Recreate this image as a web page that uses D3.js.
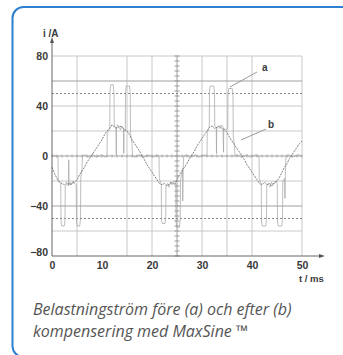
<!DOCTYPE html>
<html>
<head>
<meta charset="utf-8">
<script src="https://cdn.jsdelivr.net/npm/d3@7"></script>
<style>
  body { margin: 0; background: #fff; }
  svg { display: block; }
</style>
</head>
<body>
<div id="chart"></div>
<script>
// curve b (after compensation), one reading every 0.5 ms
const bTime = d3.range(0, 50.01, 0.5)
const bCurrent = [
  -9, -14, -18, -21, -22, -23, -21, -23, -22, -21, -19, -15, -12, -9, -5, -2, 1, 4, 7, 10,
  13, 17, 20, 22, 25, 23, 22, 24, 23, 21, 20, 17, 13, 10, 7, 4, 0, -3, -7, -10,
  -13, -16, -19, -22, -23, -22, -24, -22, -21, -23, -19, -15, -12, -9, -6, -2, 1, 4, 8, 11,
  14, 17, 20, 23, 24, 22, 23, 24, 22, 21, 19, 15, 12, 9, 6, 3, 0, -3, -7, -10,
  -13, -16, -19, -22, -23, -21, -23, -22, -24, -21, -20, -17, -13, -9, -6, -2, 1, 4, 7, 10,
  12
]

// curve a (before compensation)
const aTime = [
  0, 0.5, 0.9, 1.2, 1.25, 1.5, 1.75, 1.8, 1.95, 2.45, 2.6, 2.65, 3.0, 3.3, 3.35, 3.4, 3.6, 3.9, 4.2, 4.5, 4.85,
  4.9, 5.05, 5.55, 5.7, 5.75, 6.0, 6.1, 6.6, 7.1, 7.6, 8.2, 8.8, 9.4, 10.0, 10.6,
  11.0, 11.05, 11.3, 11.55, 11.6, 11.75, 12.25, 12.4, 12.45, 12.8, 12.85, 12.9, 13.1, 13.4, 13.7, 14.0, 14.3,
  14.35, 14.4, 14.65, 14.7, 14.85, 15.5, 15.65, 15.7, 16.0, 16.1, 16.7, 17.3, 17.9, 18.5, 19.1, 19.7, 20.3, 20.9,
  21.4, 21.45, 21.7, 21.85, 21.9, 22.05, 22.6, 22.75, 22.8, 23.1, 23.4, 23.7, 24.0, 24.3, 24.75,
  24.8, 24.95, 25.5, 25.65, 25.7, 26.0, 26.1, 26.15, 26.25, 26.35, 26.9, 27.5, 28.1, 28.7, 29.3, 29.9, 30.5,
  31.0, 31.05, 31.3, 31.45, 31.5, 31.65, 32.35, 32.5, 32.55, 32.85, 32.9, 32.95, 33.3, 33.6, 33.9, 34.2,
  34.3, 34.35, 34.7, 35.15, 35.2, 35.35, 36.05, 36.2, 36.25, 36.5, 36.6, 37.2, 37.8, 38.4, 39.0, 39.6, 40.2, 40.8,
  41.4, 41.45, 41.7, 41.85, 41.9, 42.05, 42.75, 42.9, 42.95, 43.3, 43.6, 43.9, 44.2, 44.5, 44.8, 45.05,
  45.1, 45.25, 45.95, 46.1, 46.15, 46.5, 46.6, 46.7, 46.8, 47.4, 48.0, 48.6, 49.2, 50
]
const aCurrent = [
  -1, 1, -1, 0, -20, -21, -22, -52, -56, -56, -51, -24, -22, -24, -3, -23, -21, -23, -20, -22, -23,
  -52, -56, -56, -50, -18, -10, 0, 1, -1, 0, 1, -1, 0, 1, -1,
  0, 18, 20, 22, 52, 57, 57, 50, 24, 22, 1, 23, 25, 23, 21, 24, 22,
  2, 21, 20, 50, 56, 56, 50, 18, 10, 0, -1, 1, 0, -1, 1, 0, -1, 1,
  0, -18, -21, -22, -50, -54, -54, -49, -24, -22, -25, -21, -23, -20, -22,
  -53, -57, -57, -50, -20, -12, -10, -36, -8, 0, 1, -1, 0, 1, -1, 0, 1,
  0, 19, 21, 23, 52, 56, 56, 50, 24, 22, 2, 23, 24, 22, 25, 23,
  3, 22, 21, 22, 50, 54, 54, 48, 16, 8, 0, 1, -1, 0, 1, -1, 0, 1,
  0, -18, -21, -22, -52, -56, -56, -50, -23, -22, -25, -21, -23, -22, -20, -22,
  -52, -56, -56, -50, -20, -18, -34, -10, 0, 1, -1, 0, 1, 0
]

const yLabels = [80, 40, 0, -40, -80]
const xLabels = [0, 10, 20, 30, 40, 50]
const gridTimes = [5, 15, 20, 25, 30, 35, 40, 50]
const gridCurrents = [80, 60, 40, 20, 0, -20, -40, -60]
const dashedCurrents = [50, -50]

const width = 343
const height = 355

const svg = d3
  .select('#chart')
  .append('svg')
  .attr('width', width)
  .attr('height', height)

// card
svg
  .append('rect')
  .attr('x', 12.5)
  .attr('y', 7)
  .attr('width', 345)
  .attr('height', 350)
  .attr('rx', 11)
  .attr('fill', '#fff')
  .attr('stroke', '#2d7fd3')
  .attr('stroke-width', 2)

const xScale = d3.scaleLinear().domain([0, 50]).range([52, 302])
const yScale = d3.scaleLinear().domain([-80, 80]).range([256, 56])

const grid = svg.append('g')

grid
  .selectAll('.vgrid')
  .data(gridTimes)
  .enter()
  .append('line')
  .attr('x1', d => xScale(d))
  .attr('x2', d => xScale(d))
  .attr('y1', yScale(80))
  .attr('y2', yScale(-80))
  .attr('stroke', d => (d === 25 ? '#a0a0a0' : '#c8c8c8'))
  .attr('stroke-width', 1)

grid
  .selectAll('.hgrid')
  .data(gridCurrents)
  .enter()
  .append('line')
  .attr('x1', xScale(0))
  .attr('x2', xScale(50))
  .attr('y1', d => yScale(d))
  .attr('y2', d => yScale(d))
  .attr('stroke', d => (d === 0 || d === -40 || d === 60 ? '#a0a0a0' : '#c8c8c8'))
  .attr('stroke-width', 1)

grid
  .selectAll('.dgrid')
  .data(dashedCurrents)
  .enter()
  .append('line')
  .attr('x1', xScale(0))
  .attr('x2', xScale(50))
  .attr('y1', d => yScale(d))
  .attr('y2', d => yScale(d))
  .attr('stroke', '#888')
  .attr('stroke-dasharray', '2,2')

// small graticule ticks on the centre lines
grid
  .selectAll('.vtick')
  .data(d3.range(-80, 80.1, 4))
  .enter()
  .append('line')
  .attr('x1', xScale(25) - 2.5)
  .attr('x2', xScale(25) + 2.5)
  .attr('y1', d => yScale(d))
  .attr('y2', d => yScale(d))
  .attr('stroke', '#999')

grid
  .selectAll('.htick')
  .data(d3.range(0, 50.1, 1))
  .enter()
  .append('line')
  .attr('x1', d => xScale(d))
  .attr('x2', d => xScale(d))
  .attr('y1', yScale(0) - 1.5)
  .attr('y2', yScale(0) + 1.5)
  .attr('stroke', '#aaa')

// curves
const line = d3
  .line()
  .x(d => xScale(d[0]))
  .y(d => yScale(d[1]))

svg
  .append('path')
  .datum(d3.zip(aTime, aCurrent))
  .attr('d', line)
  .attr('fill', 'none')
  .attr('stroke', '#a2a2a2')
  .attr('stroke-width', 0.7)

svg
  .append('path')
  .datum(d3.zip(bTime, bCurrent))
  .attr('d', line)
  .attr('fill', 'none')
  .attr('stroke', '#808080')
  .attr('stroke-width', 1)
  .attr('stroke-dasharray', '2,1')

// axes
svg
  .append('line')
  .attr('x1', xScale(0))
  .attr('x2', xScale(0))
  .attr('y1', yScale(-80))
  .attr('y2', 40)
  .attr('stroke', '#666')
svg
  .append('path')
  .attr('d', `M${xScale(0) - 2},43 L${xScale(0)},37 L${xScale(0) + 2},43 Z`)
  .attr('fill', '#555')

svg
  .append('line')
  .attr('x1', xScale(0))
  .attr('x2', 322)
  .attr('y1', yScale(-80))
  .attr('y2', yScale(-80))
  .attr('stroke', '#666')
svg
  .append('path')
  .attr('d', `M319,${yScale(-80) - 2} L325,${yScale(-80)} L319,${yScale(-80) + 2} Z`)
  .attr('fill', '#555')

const yAxis = d3.axisLeft(yScale).tickValues(yLabels).tickSize(0).tickPadding(4)
const yg = svg
  .append('g')
  .attr('transform', 'translate(' + xScale(0) + ',0)')
  .call(yAxis)
yg.select('.domain').remove()
yg.selectAll('text')
  .attr('font-family', 'Liberation Sans, Arial, sans-serif')
  .attr('font-size', 10.5)
  .attr('font-weight', 'bold')
  .attr('fill', '#3a3a3a')
yg.selectAll('.tick')
  .filter(d => d === -80)
  .select('text')
  .attr('dy', '-0.05em')

const xAxis = d3.axisBottom(xScale).tickValues(xLabels).tickSize(0).tickPadding(6)
const xg = svg
  .append('g')
  .attr('transform', 'translate(0,' + yScale(-80) + ')')
  .call(xAxis)
xg.select('.domain').remove()
xg.selectAll('text')
  .attr('font-family', 'Liberation Sans, Arial, sans-serif')
  .attr('font-size', 10.5)
  .attr('font-weight', 'bold')
  .attr('fill', '#3a3a3a')

svg
  .append('text')
  .text('i /A')
  .attr('x', 43)
  .attr('y', 37)
  .attr('font-family', 'Liberation Sans, Arial, sans-serif')
  .attr('font-size', 10)
  .attr('font-weight', 'bold')
  .attr('fill', '#3a3a3a')

svg
  .append('text')
  .text('t / ms')
  .attr('x', 299)
  .attr('y', 282)
  .attr('font-family', 'Liberation Sans, Arial, sans-serif')
  .attr('font-size', 9.5)
  .attr('font-weight', 'bold')
  .attr('fill', '#3a3a3a')

// leader labels
svg
  .append('line')
  .attr('x1', 230)
  .attr('y1', 87)
  .attr('x2', 257)
  .attr('y2', 72)
  .attr('stroke', '#999')
svg
  .append('text')
  .text('a')
  .attr('x', 262)
  .attr('y', 71)
  .attr('font-family', 'Liberation Sans, Arial, sans-serif')
  .attr('font-size', 10)
  .attr('font-weight', 'bold')
  .attr('fill', '#3a3a3a')

svg
  .append('line')
  .attr('x1', 241)
  .attr('y1', 140)
  .attr('x2', 266)
  .attr('y2', 129)
  .attr('stroke', '#999')
svg
  .append('text')
  .text('b')
  .attr('x', 268)
  .attr('y', 128)
  .attr('font-family', 'Liberation Sans, Arial, sans-serif')
  .attr('font-size', 10)
  .attr('font-weight', 'bold')
  .attr('fill', '#3a3a3a')

// caption
const caption = svg
  .append('text')
  .attr('font-family', 'Open Sans, sans-serif')
  .attr('font-style', 'italic')
  .attr('font-size', 16)
  .attr('fill', '#555')

caption
  .append('tspan')
  .attr('x', 33)
  .attr('y', 315)
  .text('Belastningström före (a) och efter (b)')

caption
  .append('tspan')
  .attr('x', 33)
  .attr('y', 337)
  .text('kompensering med MaxSine ™')
</script>
</body>
</html>
